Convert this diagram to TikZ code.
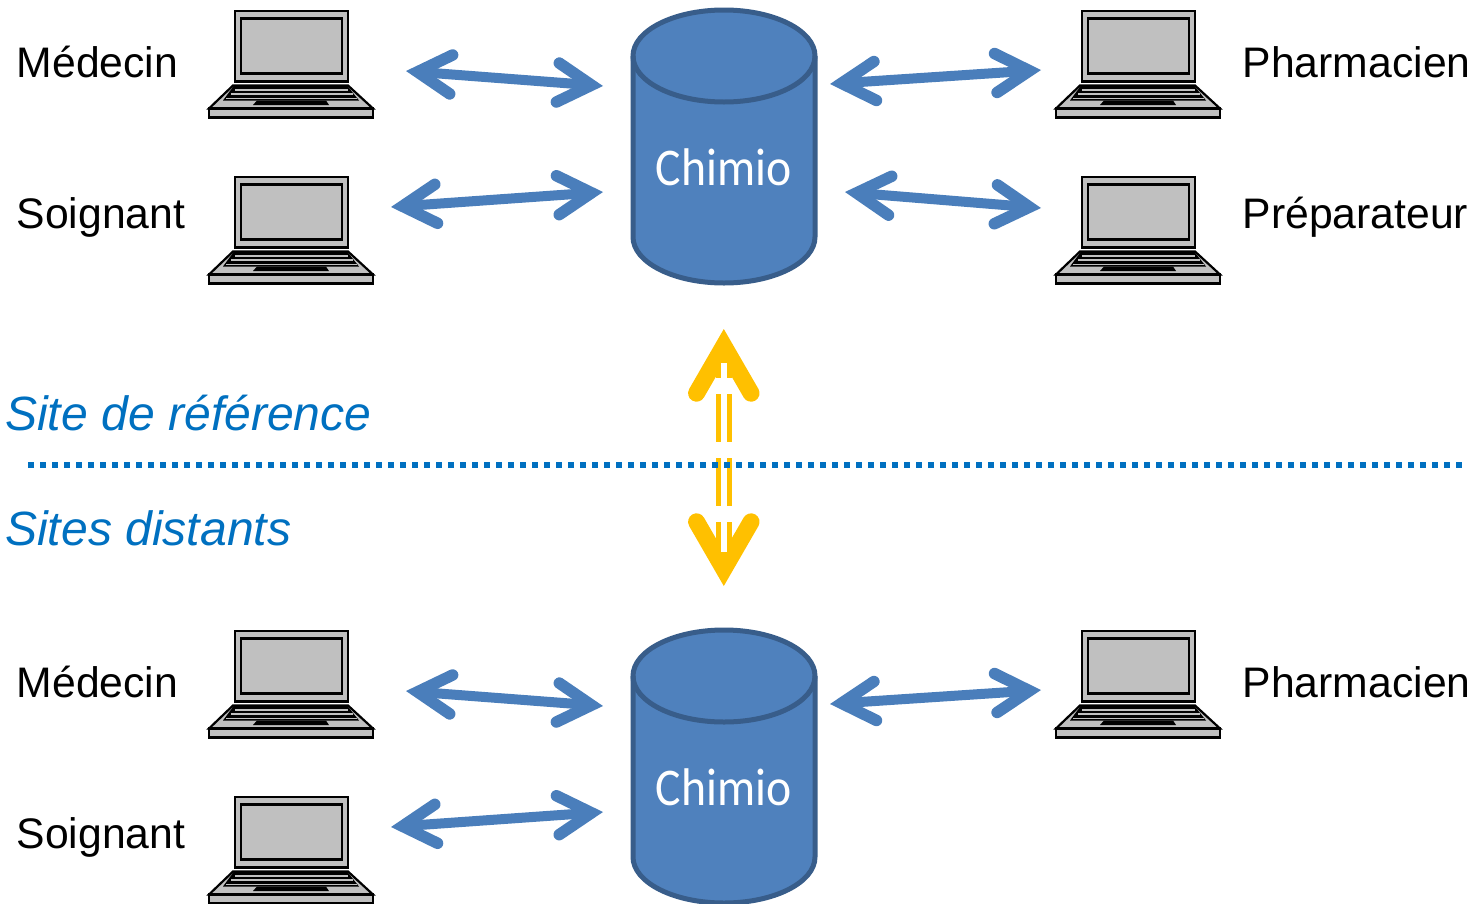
\documentclass[tikz,border=0pt]{standalone}
\usepackage{fontspec}
\setmainfont{Liberation Sans}
\newfontfamily\chimfont[FakeStretch=0.9]{Carlito}
\usetikzlibrary{calc}
\definecolor{arrowblue}{HTML}{4A7EBB}
\definecolor{cylfill}{HTML}{4F81BD}
\definecolor{cylline}{HTML}{385D8A}
\definecolor{sitecol}{HTML}{0070C0}
\definecolor{linkyellow}{HTML}{FFC000}
\definecolor{padgray}{HTML}{C0C0C0}
\tikzset{
  lab/.style={anchor=base west,inner sep=0pt,font=\fontsize{42.7}{50}\selectfont},
  sitelab/.style={anchor=base west,inner sep=0pt,text=sitecol,font=\fontsize{48.1}{56}\selectfont\itshape},
  chimlab/.style={anchor=base,inner sep=0pt,text=white,font=\chimfont\fontsize{53}{60}\selectfont},
  shaft/.style={draw=arrowblue,line width=10pt},
  barb/.style={draw=arrowblue,line width=11.5pt,line cap=round,line join=miter},
  ybarb/.style={draw=linkyellow,line width=17pt,line cap=round,line join=miter},
  cyl/.style={draw=cylline,fill=cylfill,line width=5pt,line join=round},
  lap/.style={draw=black,fill=padgray,line width=2.2pt,line join=miter},
  pics/laptop/.style={code={
    \path[lap] (26,0.5) rectangle (139,71);
    \path[lap] (32,8) rectangle (133,63);
    \path[lap] (24,75) -- (139,75) -- (164,98) -- (0,98) -- cycle;
    \fill[black] (25,75) -- (138,75) -- (150,90) -- (14,90) -- cycle;
    \fill[padgray] (26,78.2) rectangle (139,80);
    \fill[padgray] (22,82.6) rectangle (144,84.2);
    \fill[padgray] (17,87) rectangle (148,88.6);
    \fill[black] (48,90) -- (117,90) -- (120,94.5) -- (44,94.5) -- cycle;
    \path[lap] (0,98) rectangle (164,107);
  }},
  pics/database/.style={code={
    \path[cyl] (-91,0) -- (-91,181) arc[x radius=91,y radius=46,start angle=180,end angle=0]
      -- (91,0) arc[x radius=91,y radius=46,start angle=0,end angle=-180] -- cycle;
    \path[cyl,fill=none] (-91,0) arc[x radius=91,y radius=46,start angle=180,end angle=0];
  }}
}
\newcommand\twoway[2]{%
  \coordinate (va) at ($(#1)!11.5pt!(#2)$);
  \coordinate (vb) at ($(#2)!11.5pt!(#1)$);
  \draw[shaft] (va) -- (vb);
  \draw[barb] ($(va)!39pt!30:(vb)$) -- (va) -- ($(va)!39pt!-30:(vb)$);
  \draw[barb] ($(vb)!39pt!30:(va)$) -- (vb) -- ($(vb)!39pt!-30:(va)$);
}
\begin{document}
\begin{tikzpicture}[x=1pt,y=-1pt]
\useasboundingbox (0,0) rectangle (1478,903);
% laptops
\pic at (209,10.5) {laptop};
\pic at (209,176.5) {laptop};
\pic at (1056,10.5) {laptop};
\pic at (1056,176.5) {laptop};
\pic at (209,630.5) {laptop};
\pic at (209,796.5) {laptop};
\pic at (1056,630.5) {laptop};
% cylinders
\pic at (724,56) {database};
\pic at (724,676) {database};
\node[chimlab] (chimA) at (723.5,185) {Chimio};
\node[chimlab] (chimB) at (723.5,805) {Chimio};
% labels
\node[lab] (medA) at (16.5,77) {Médecin};
\node[lab] (soiA) at (16.5,228) {Soignant};
\node[lab] (phaA) at (1242.5,77) {Pharmacien};
\node[lab] (prep) at (1242.5,228) {Préparateur};
\node[lab] (medB) at (16.5,697) {Médecin};
\node[lab] (soiB) at (16.5,848) {Soignant};
\node[lab] (phaB) at (1242.5,697) {Pharmacien};
\node[sitelab] (siteref) at (5,430) {Site de référence};
\node[sitelab] (sitedis) at (5,545) {Sites distants};
% arrow ends
\coordinate (a1) at (406,71);   \coordinate (b1) at (603,86);
\coordinate (a2) at (391,207);  \coordinate (b2) at (603,192);
\coordinate (a3) at (830,84);   \coordinate (b3) at (1041,70);
\coordinate (a4) at (845,192);  \coordinate (b4) at (1041,208);
\coordinate (a5) at (406,691);  \coordinate (b5) at (603,706);
\coordinate (a6) at (391,827);  \coordinate (b6) at (603,812);
\coordinate (a7) at (830,704);  \coordinate (b7) at (1041,690);
\twoway{a1}{b1}
\twoway{a2}{b2}
\twoway{a3}{b3}
\twoway{a4}{b4}
\twoway{a5}{b5}
\twoway{a6}{b6}
\twoway{a7}{b7}
% yellow link
\coordinate (yt) at (723.8,346);
\coordinate (yb) at (723.8,569);
\draw[ybarb] ($(yt)!54.5pt!30:(yb)$) -- (yt) -- ($(yt)!54.5pt!-30:(yb)$);
\draw[ybarb] ($(yb)!54.5pt!30:(yt)$) -- (yb) -- ($(yb)!54.5pt!-30:(yt)$);
\draw[draw=linkyellow,line width=5.3pt,double=white,double distance=5.7pt,dash pattern=on 48pt off 16pt,dash phase=33pt]
  ($(yt)!17pt!(yb)$) -- ($(yb)!17pt!(yt)$);
% separator
\coordinate (sepl) at (28,465);
\coordinate (sepr) at (1462,465);
\draw[draw=sitecol,line width=5.5pt,dash pattern=on 6pt off 6pt] (sepl) -- (sepr);
\end{tikzpicture}
\end{document}
